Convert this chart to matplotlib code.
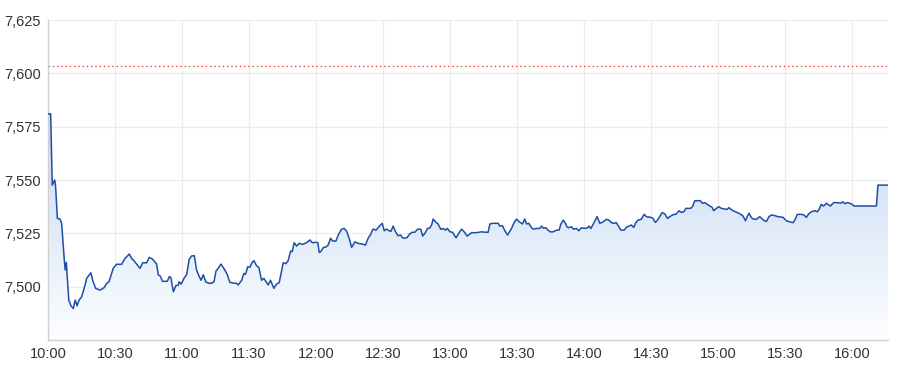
import matplotlib
matplotlib.use("Agg")
import matplotlib.pyplot as plt
import numpy as np
from matplotlib.ticker import FuncFormatter
from matplotlib.patches import Polygon

plt.rcParams['font.family'] = ['Liberation Sans', 'DejaVu Sans']

# minutes after 10:00
minutes = [0, 1.2, 1.9, 3.0, 3.4, 4.2, 5.4, 6.1, 7.3, 7.7, 8.2, 9.3, 10.3, 11.3, 12.2, 13.0, 13.9, 15.1, 16.6, 17.3,
           19.2, 20.0, 21.3, 23.3, 25.1, 26.3, 27.3, 29.2, 30.7, 33.0, 34.5, 36.4, 37.4, 38.6, 41.2, 42.4, 44.2, 45.3,
           46.7, 48.6, 49.4, 50.2, 51.3, 53.4, 54.3, 55.0, 56.1, 57.3, 58.3, 58.7, 59.6, 60.9, 62.1, 63.2, 64.3, 65.5,
           66.5, 67.7, 68.5, 69.5, 70.6, 72.0, 73.2, 74.3, 75.2, 76.2, 77.4, 78.7, 80.2, 81.4, 83.4, 84.4, 85.1, 86.7,
           87.7, 88.4, 89.4, 90.4, 91.4, 92.2, 93.4, 94.4, 95.6, 96.6, 97.9, 98.6, 99.6, 101.1, 102.3, 103.5, 105.3,
           106.5, 107.5, 108.6, 109.3, 110.2, 111.3, 112.4, 114.0, 115.0, 116.0, 117.2, 118.3, 120.2, 120.8, 121.4,
           122.1, 123.2, 124.4, 125.4, 126.5, 127.4, 128.9, 129.9, 131.4, 132.6, 133.6, 134.8, 135.9, 137.4, 138.8,
           140.6, 142.1, 143.3, 144.4, 145.5, 146.8, 148.1, 149.6, 150.5, 151.5, 152.7, 153.5, 154.5, 155.6, 156.7,
           157.8, 158.7, 159.7, 160.8, 161.7, 163.0, 164.2, 165.4, 166.9, 167.7, 168.7, 169.9, 170.9, 171.7, 172.4,
           173.6, 174.6, 175.8, 176.9, 177.9, 178.8, 179.9, 181.1, 182.6, 183.9, 185.1, 186.3, 186.6, 187.6, 189.6,
           191.8, 194.0, 196.0, 197.0, 197.8, 199.2, 201.5, 202.2, 203.4, 204.5, 205.7, 207.5, 208.5, 209.7, 210.9,
           212.4, 213.4, 214.2, 215.2, 216.1, 217.1, 219.1, 220.1, 220.9, 221.9, 222.8, 223.8, 224.9, 226.1, 227.6,
           228.8, 229.5, 230.6, 231.8, 232.2, 233.1, 234.3, 235.3, 236.5, 237.6, 238.8, 240.3, 241.5, 242.2, 243.0,
           244.0, 245.8, 247.0, 248.5, 250.0, 251.0, 252.2, 253.2, 254.4, 255.5, 256.4, 257.9, 258.9, 260.1, 261.1,
           262.2, 263.1, 264.1, 265.6, 266.8, 267.9, 269.8, 270.8, 271.9, 273.1, 274.9, 276.1, 277.3, 278.7, 280.2,
           281.0, 282.5, 283.5, 284.6, 285.5, 287.6, 288.5, 289.5, 291.0, 292.0, 292.9, 294.0, 295.0, 296.2, 297.2,
           298.0, 299.2, 300.2, 301.4, 302.9, 303.9, 304.8, 306.2, 307.7, 308.9, 310.1, 311.1, 312.2, 313.1, 313.8,
           314.9, 315.9, 317.1, 318.6, 319.8, 320.8, 321.6, 322.7, 323.8, 325.3, 326.8, 329.0, 330.5, 332.0, 333.5,
           334.5, 335.4, 337.2, 338.4, 339.4, 340.5, 341.7, 343.2, 344.4, 345.4, 346.1, 347.2, 348.4, 349.1, 350.2,
           351.7, 353.3, 354.8, 355.8, 356.6, 357.8, 358.9, 359.9, 360.8, 370.8, 371.5, 376.0]
prices = [7581, 7581, 7547.6, 7550, 7547, 7532, 7531.7, 7529.7, 7512.5, 7507.8, 7511.4, 7493.7, 7491, 7489.8, 7493.7,
          7491, 7493.7, 7495.3, 7500.8, 7503.9, 7506.5, 7503, 7499.2, 7498.4, 7499.5, 7501.6, 7502.3, 7508.6, 7510.5,
          7510.5, 7513.3, 7515.3, 7513.3, 7512, 7508.6, 7511.2, 7511.2, 7513.7, 7513, 7510.6, 7505.5, 7505, 7502.5,
          7502.5, 7504.7, 7504.3, 7497.6, 7500.6, 7500.6, 7502.3, 7501.2, 7503.9, 7505.8, 7512.8, 7514.4, 7514.5,
          7507.8, 7504.7, 7503, 7505.6, 7502.2, 7501.6, 7501.6, 7502.3, 7507.3, 7508.6, 7510.6, 7508.6, 7505.8, 7502,
          7501.6, 7501.6, 7500.8, 7503, 7506.2, 7505.8, 7509.3, 7509.1, 7511.4, 7512.2, 7509.7, 7509, 7503, 7503.9,
          7501.9, 7500.8, 7503, 7499.2, 7501.2, 7501.9, 7511.2, 7510.8, 7512.2, 7516.7, 7516.4, 7520.6, 7519, 7520.3,
          7519.8, 7520.3, 7520.8, 7521.9, 7520.6, 7520.8, 7520.6, 7516, 7516.4, 7518.3, 7518.6, 7519.5, 7522.7,
          7521.4, 7521.4, 7524.2, 7526.9, 7527.3, 7526.1, 7522.7, 7518.4, 7521, 7520.3, 7520, 7519.5, 7522.7, 7524.5,
          7527, 7526.5, 7528.1, 7529.7, 7526.2, 7527, 7526.2, 7525.9, 7528.4, 7525.7, 7523.9, 7524.2, 7522.9, 7522.7,
          7523.1, 7524.5, 7525.5, 7525.5, 7526.9, 7526.9, 7523.7, 7525, 7527.3, 7527.5, 7528.9, 7531.7, 7530.2,
          7529.4, 7526.9, 7527.3, 7526.5, 7527.3, 7525.7, 7525.5, 7522.9, 7525, 7527, 7525.7, 7525.3, 7523.7, 7525.3,
          7525.3, 7525.7, 7525.5, 7525.5, 7529.4, 7529.7, 7529.7, 7528.4, 7528.6, 7526.2, 7524.2, 7527.3, 7529.7,
          7531.7, 7530.4, 7529.4, 7531.7, 7529.4, 7529.7, 7528.1, 7527, 7527.3, 7527.3, 7528.4, 7527.3, 7527.7,
          7526.5, 7525.7, 7525.7, 7526.5, 7526.5, 7529.2, 7531.2, 7529.4, 7528.1, 7527.6, 7528.1, 7526.9, 7527.3,
          7526.2, 7527.6, 7527.3, 7527.6, 7528.4, 7527.3, 7529.2, 7532.8, 7529.7, 7530.4, 7531.6, 7531.2, 7530,
          7529.7, 7530, 7528.1, 7526.5, 7526.5, 7527.8, 7528.4, 7528.9, 7527.8, 7530, 7531.2, 7531.6, 7533.9, 7532.8,
          7532.5, 7532, 7530.1, 7531.6, 7534.7, 7534.1, 7532, 7533.1, 7533.9, 7533.9, 7535.6, 7534.8, 7535.1, 7536.7,
          7536.7, 7537.5, 7540.3, 7540.3, 7540.3, 7539.1, 7539.4, 7538.7, 7537.8, 7537.3, 7535.6, 7536.7, 7537.5,
          7536.7, 7536.4, 7536.2, 7537, 7535.9, 7535.1, 7534.6, 7533.9, 7533.1, 7530.9, 7533.1, 7534.4, 7532.3,
          7531.6, 7531.6, 7532.8, 7531.6, 7530.8, 7530.6, 7532.8, 7533.6, 7533.3, 7532.8, 7532.5, 7530.9, 7530.4,
          7530, 7531.6, 7533.9, 7533.9, 7533.6, 7532.5, 7534.1, 7535.1, 7535.6, 7535.1, 7536.7, 7538.6, 7537.8,
          7539.1, 7538.6, 7537.8, 7539.4, 7539.4, 7539.1, 7539.8, 7538.9, 7539.4, 7539.1, 7538.6, 7537.8, 7537.8,
          7547.6, 7547.6]

ref_level = 7603.5
y_ticks = [7500, 7525, 7550, 7575, 7600, 7625]
x_tick_minutes = [0, 30, 60, 90, 120, 150, 180, 210, 240, 270, 300, 330, 360]
x_tick_labels = ["10:00", "10:30", "11:00", "11:30", "12:00", "12:30", "13:00", "13:30",
                 "14:00", "14:30", "15:00", "15:30", "16:00"]

fig = plt.figure(figsize=(9, 3.75), dpi=100)
ax = fig.add_axes([48/900, 1-340/375, (888-48)/900, (340-20)/375])

ymin, ymax = 7475, 7625
xmin, xmax = 0, 376
ax.set_xlim(xmin, xmax)
ax.set_ylim(ymin, ymax)

# gradient fill under line
top_c = np.array([0.76, 0.845, 0.955])
bot_c = np.array([0.99, 0.995, 1.0])
yfrac_top = (7585 - ymin) / (ymax - ymin)
img = np.zeros((256, 1, 3))
for i in range(256):
    t = i / 255.0
    f = min(t / yfrac_top, 1.0)
    img[i, 0, :] = bot_c + (top_c - bot_c) * f
im = ax.imshow(img, extent=[xmin, xmax, ymin, ymax], origin='lower', aspect='auto', zorder=1)
verts = [(minutes[0], ymin)] + list(zip(minutes, prices)) + [(minutes[-1], ymin)]
poly = Polygon(verts, closed=True, facecolor='none', edgecolor='none')
ax.add_patch(poly)
im.set_clip_path(poly)

ax.plot(minutes, prices, color='#1f4ea3', lw=1.1, zorder=3)
ax.axhline(ref_level, color='#e8463a', lw=0.9, linestyle=(0, (1.2, 2.2)), zorder=2)

ax.set_yticks(y_ticks)
ax.set_xticks(x_tick_minutes)
ax.set_xticklabels(x_tick_labels)
ax.yaxis.set_major_formatter(FuncFormatter(lambda v, p: f"{int(v):,}"))
ax.grid(True, color='#ebebeb', lw=0.8, zorder=0)
ax.set_axisbelow(True)
ax.tick_params(length=0, labelsize=10.5, colors='#333333', pad=5)
for s in ['top', 'right']:
    ax.spines[s].set_visible(False)
for s in ['left', 'bottom']:
    ax.spines[s].set_color('#d0d0d0')
    ax.spines[s].set_linewidth(1.0)

fig.savefig('out.png', dpi=100)
